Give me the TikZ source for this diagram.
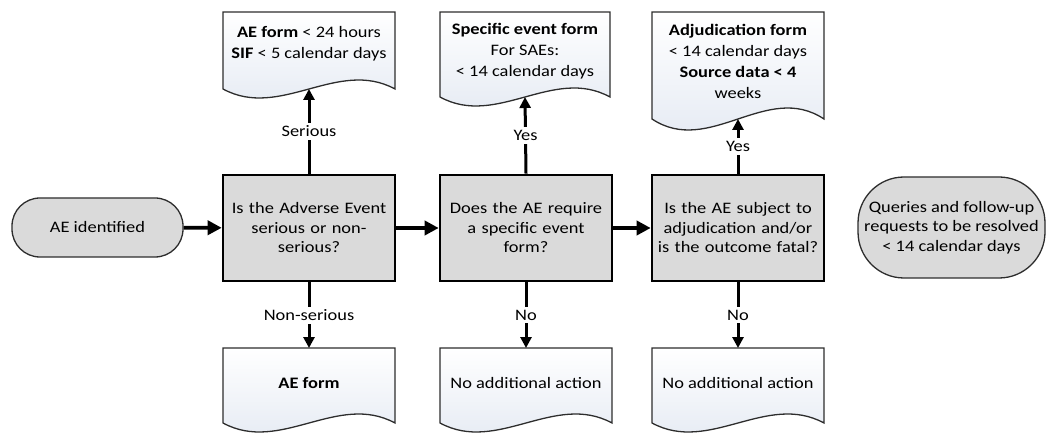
\documentclass[tikz,border=0pt]{standalone}
\usepackage{fontspec}
\setmainfont{Carlito}[FakeStretch=1.15]
\usetikzlibrary{arrows.meta}
\definecolor{boxgray}{RGB}{218,218,218}
\definecolor{docblue}{RGB}{226,232,242}
\definecolor{edgegray}{RGB}{45,45,45}
\newcommand\docshapepath[5]{%
  \path[docshape] (#1,#3) -- (#2,#3) -- (#2,#4)
    .. controls ({#2-(#2-#1)/3},{#4-3.46*#5}) and ({#1+(#2-#1)/3},{#4+3.46*#5}) .. (#1,#4) -- cycle;}
\begin{document}
\begin{tikzpicture}[x=1pt,y=-1pt,
  basefont/.style={font=\fontsize{16}{19.5}\selectfont},
  decision/.style={basefont,draw=black,line width=2.6pt,fill=boxgray,
    minimum width=172pt,minimum height=106pt,text width=164pt,align=center,inner sep=0pt},
  term/.style={basefont,draw=edgegray,line width=1.3pt,fill=boxgray,align=center,inner sep=0pt},
  doctext/.style={font=\fontsize{16}{21}\selectfont,align=center,inner sep=0pt},
  docshape/.style={draw=edgegray,line width=1.3pt,top color=white,bottom color=docblue},
  harr/.style={line width=3.6pt,-{Triangle[length=14pt,width=14pt]}},
  varr/.style={line width=3pt,-{Triangle[length=11pt,width=11pt]}},
  lbl/.style={basefont,fill=white,inner sep=3pt}]
\useasboundingbox (0,0) rectangle (1046,435);

% terminals
\node[term,minimum width=171pt,minimum height=59pt,rounded corners=28pt] (ae) at (97.5,227.5) {AE identified};
\node[term,minimum width=187pt,minimum height=101pt,rounded corners=46pt] (q) at (951.5,227.5)
  {Queries and follow-up\\requests to be resolved\\< 14 calendar days};

% decisions
\node[decision] (b1) at (309,228) {Is the Adverse Event\\serious or non-\\serious?};
\node[decision] (b2) at (526,228) {Does the AE require\\a specific event\\form?};
\node[decision] (b3) at (738,228) {Is the AE subject to\\adjudication and/or\\is the outcome fatal?};

% top documents
\docshapepath{223}{395}{12}{89}{9}
\docshapepath{440}{610}{12}{97}{9}
\docshapepath{652}{824}{12}{119}{11}
\coordinate (d1b) at (309,89);
\coordinate (d2b) at (525,97);
\coordinate (d3b) at (738,119);
\node[doctext] (t1) at (309,44) {\textbf{AE form} < 24 hours\\\textbf{SIF} < 5 calendar days};
\node[doctext] (t2) at (525,51) {\textbf{Specific event form}\\For SAEs:\\< 14 calendar days};
\node[doctext] (t3) at (738,61) {\textbf{Adjudication form}\\< 14 calendar days\\\textbf{Source data < 4}\\weeks};

% bottom documents
\docshapepath{223}{395}{348}{423}{9}
\docshapepath{440}{612}{348}{423}{9}
\docshapepath{652}{824}{348}{423}{9}
\coordinate (e1t) at (309,348);
\coordinate (e2t) at (526,348);
\coordinate (e3t) at (738,348);
\node[doctext] (u1) at (309,383) {\textbf{AE form}};
\node[doctext] (u2) at (526,383) {No additional action};
\node[doctext] (u3) at (738,383) {No additional action};

% connectors
\draw[harr] (ae) -- (b1);
\draw[harr] (b1) -- (b2);
\draw[harr] (b2) -- (b3);
\draw[varr] (b1.north) -- node[lbl] {Serious} (d1b);
\draw[varr] (b2.north) -- node[lbl] {Yes} (d2b);
\draw[varr] (b3.north) -- node[lbl] {Yes} (d3b);
\draw[varr] (b1.south) -- node[lbl] {Non-serious} (e1t);
\draw[varr] (b2.south) -- node[lbl] {No} (e2t);
\draw[varr] (b3.south) -- node[lbl] {No} (e3t);
\end{tikzpicture}
\end{document}
